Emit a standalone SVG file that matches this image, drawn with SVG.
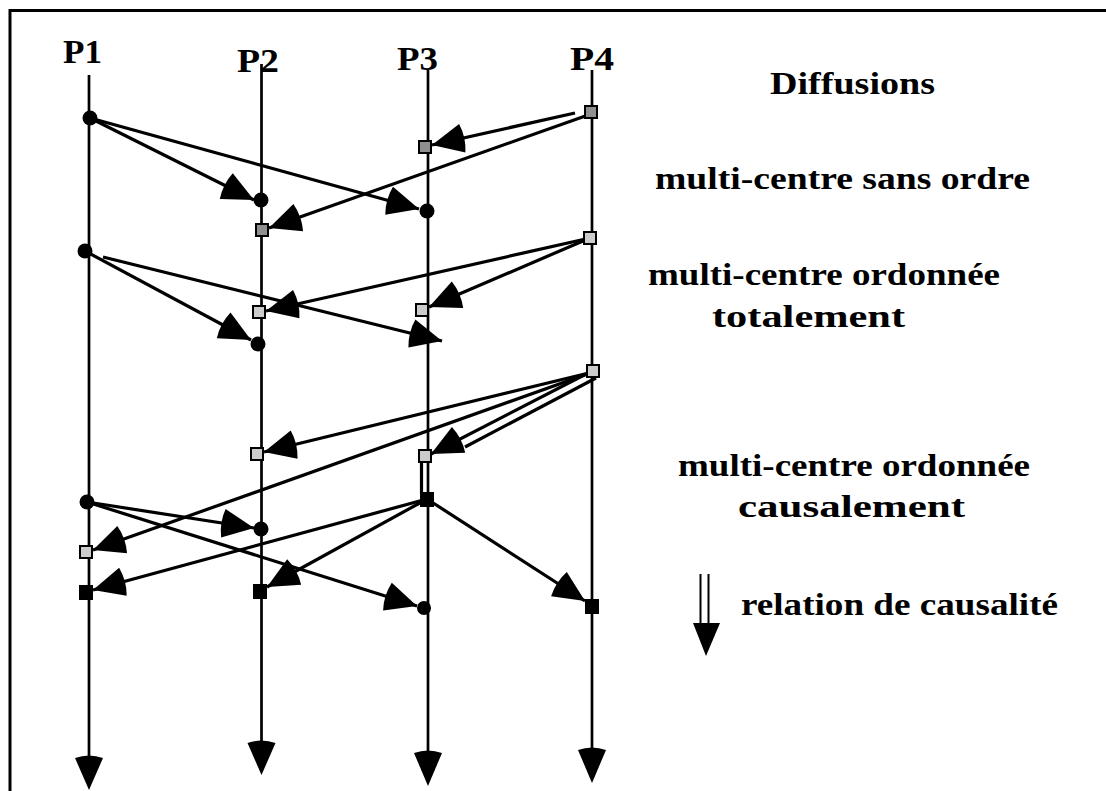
<svg xmlns="http://www.w3.org/2000/svg" width="1106" height="791" viewBox="0 0 1106 791">
<style>
.txt{font-family:"Liberation Serif","Times New Roman",serif;font-weight:bold;fill:#000}
.axis{stroke:#000;stroke-width:2.7;fill:none}
.msg{stroke:#000;stroke-width:3.2;fill:none}
.msga{stroke:#000;stroke-width:3.2;fill:none;marker-end:url(#ah)}
.dot{fill:#000}
.sqd{fill:#8f8f8f;stroke:#000;stroke-width:2}
.sql{fill:#cccccc;stroke:#000;stroke-width:2}
.sqb{fill:#000}
.head{fill:#000}
</style>
<defs>
<marker id="ah" markerUnits="userSpaceOnUse" markerWidth="48" markerHeight="48" viewBox="-40 -24 48 48" refX="0" refY="0" orient="auto">
<path d="M0,0 L-31,-14.5 Q-35,0 -31,14.5 Z" fill="#000"/>
</marker>
</defs>
<rect width="1106" height="791" fill="#fff"/>
<path d="M10,800 V10.5 H1110" fill="none" stroke="#000" stroke-width="3"/>

<g id="axis-P1">
<text class="txt" x="63" y="63" font-size="33" textLength="39" lengthAdjust="spacingAndGlyphs">P1</text>
<line class="axis" x1="89" y1="75" x2="89" y2="760"/>
<path class="head" d="M75,758 Q89,753 103,758 L89,790 Z"/>
</g>
<g id="axis-P2">
<text class="txt" x="237" y="72" font-size="33" textLength="42" lengthAdjust="spacingAndGlyphs">P2</text>
<line class="axis" x1="261.5" y1="64" x2="261.5" y2="745"/>
<path class="head" d="M247.5,743 Q261.5,738 275.5,743 L261.5,775 Z"/>
</g>
<g id="axis-P3">
<text class="txt" x="397" y="70" font-size="33" textLength="41" lengthAdjust="spacingAndGlyphs">P3</text>
<line class="axis" x1="428" y1="70" x2="428" y2="755"/>
<path class="head" d="M414,753 Q428,748 442,753 L428,786 Z"/>
</g>
<g id="axis-P4">
<text class="txt" x="570" y="70" font-size="33" textLength="44" lengthAdjust="spacingAndGlyphs">P4</text>
<line class="axis" x1="592" y1="70" x2="592" y2="752"/>
<path class="head" d="M578,750 Q592,745 606,750 L592,783 Z"/>
</g>

<g id="connectors">
<line class="msga" x1="90" y1="118" x2="254" y2="200"/>
<line class="msga" x1="90" y1="118" x2="419" y2="209"/>
<line class="msga" x1="575" y1="113" x2="432" y2="145"/>
<line class="msga" x1="591" y1="114" x2="269" y2="228"/>
<line class="msga" x1="85" y1="251" x2="251" y2="340"/>
<line class="msga" x1="103" y1="257" x2="442" y2="341"/>
<line class="msga" x1="590" y1="238" x2="266" y2="311"/>
<line class="msga" x1="590" y1="238" x2="429" y2="307"/>
<line class="msga" x1="593" y1="372" x2="264" y2="452"/>
<line class="msga" x1="593" y1="372" x2="93" y2="550"/>
<line class="msga" x1="590" y1="372" x2="431" y2="454"/>
<line class="msg" x1="596" y1="378" x2="465" y2="447"/>
<line class="msg" x1="421.5" y1="462" x2="421.5" y2="494"/>
<line class="msga" x1="87" y1="502" x2="254" y2="528"/>
<line class="msga" x1="87" y1="502" x2="417" y2="606"/>
<line class="msga" x1="427" y1="499" x2="267" y2="587"/>
<line class="msga" x1="427" y1="499" x2="93" y2="590"/>
<line class="msga" x1="427" y1="499" x2="585" y2="601"/>
</g>

<g id="n-g1-p1"><circle class="dot" cx="90" cy="118" r="7.5"/></g>
<g id="n-g1-p2"><circle class="dot" cx="261" cy="200" r="7.5"/></g>
<g id="n-g1-p3"><circle class="dot" cx="427" cy="211" r="7.5"/></g>
<g id="n-g1-p4sq"><rect class="sqd" x="585" y="106" width="12" height="12"/></g>
<g id="n-g1-p3sq"><rect class="sqd" x="419" y="141" width="12" height="12"/></g>
<g id="n-g1-p2sq"><rect class="sqd" x="256" y="224" width="12" height="12"/></g>

<g id="n-g2-p1"><circle class="dot" cx="85" cy="251" r="7.5"/></g>
<g id="n-g2-p2"><circle class="dot" cx="258" cy="344" r="7.5"/></g>
<g id="n-g2-p4sq"><rect class="sql" x="584" y="232" width="12" height="12"/></g>
<g id="n-g2-p2sq"><rect class="sql" x="253" y="306" width="12" height="12"/></g>
<g id="n-g2-p3sq"><rect class="sql" x="416" y="304" width="12" height="12"/></g>

<g id="n-g3-p4sq"><rect class="sql" x="587" y="365" width="12" height="12"/></g>
<g id="n-g3-p2sq"><rect class="sql" x="251" y="448" width="12" height="12"/></g>
<g id="n-g3-p3sq"><rect class="sql" x="419" y="450" width="12" height="12"/></g>
<g id="n-g3-p1sq"><rect class="sql" x="80" y="546" width="12" height="12"/></g>

<g id="n-g4-p1"><circle class="dot" cx="87" cy="502" r="7.5"/></g>
<g id="n-g4-p2"><circle class="dot" cx="261" cy="529" r="7.5"/></g>
<g id="n-g4-p3"><circle class="dot" cx="424" cy="608" r="7"/></g>
<g id="n-g4-p3sq"><rect class="sqb" x="420" y="492" width="14" height="15"/></g>
<g id="n-g4-p2sq"><rect class="sqb" x="253" y="584" width="14" height="15"/></g>
<g id="n-g4-p1sq"><rect class="sqb" x="79" y="585" width="14" height="15"/></g>
<g id="n-g4-p4sq"><rect class="sqb" x="585" y="599" width="14" height="15"/></g>

<g id="legend">
<text class="txt" x="770" y="94" font-size="32" textLength="165" lengthAdjust="spacingAndGlyphs">Diffusions</text>
<text class="txt" x="655" y="189" font-size="32" textLength="375" lengthAdjust="spacingAndGlyphs">multi-centre sans ordre</text>
<text class="txt" x="648" y="285" font-size="32" textLength="352" lengthAdjust="spacingAndGlyphs">multi-centre ordonnée</text>
<text class="txt" x="712" y="327" font-size="32" textLength="193" lengthAdjust="spacingAndGlyphs">totalement</text>
<text class="txt" x="678" y="476" font-size="32" textLength="352" lengthAdjust="spacingAndGlyphs">multi-centre ordonnée</text>
<text class="txt" x="738" y="517" font-size="32" textLength="227" lengthAdjust="spacingAndGlyphs">causalement</text>
<text class="txt" x="741" y="615" font-size="32" textLength="317" lengthAdjust="spacingAndGlyphs">relation de causalité</text>
<line x1="700.5" y1="574" x2="700.5" y2="625" stroke="#000" stroke-width="2"/>
<line x1="708.5" y1="574" x2="708.5" y2="625" stroke="#000" stroke-width="2"/>
<path class="head" d="M693,623 L720,623 L706,656 Z"/>
</g>
</svg>
